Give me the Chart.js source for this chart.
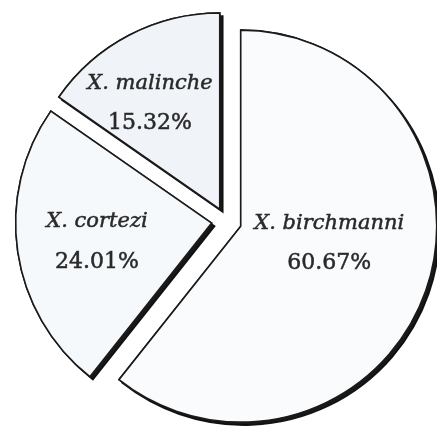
<!DOCTYPE html>
<html>
<head>
<meta charset="utf-8">
<script src="https://cdn.jsdelivr.net/npm/chart.js@4/dist/chart.umd.min.js"></script>
<style>
  html, body { margin: 0; padding: 0; background: #ffffff; }
  canvas { display: block; }
</style>
</head>
<body>
<canvas id="speciesPie" width="437" height="427"></canvas>
<script>
const speciesNames = ["X. birchmanni", "X. cortezi", "X. malinche"];
const speciesShares = [60.67, 24.01, 15.32];
const sliceFills = ["#f9fbfc", "#f6f9fb", "#f0f4f8"];

// how far each slice is pulled out of the pie, in px
const explodeBy = [15.6, 14.5, 13.5];
// label placement: fraction of radius from the slice tip, and turn in degrees
const labelRadius = [0.46, 0.593, 0.645];
const labelTurn = [-8.3, -1.0, -5.9];

function formatShare(value) {
  return `${value.toFixed(2)}%`;
}

// moves each arc along its bisector (same radius for every slice)
const explodePlugin = {
  id: "explodeSlices",
  afterDatasetsUpdate(chart) {
    chart.getDatasetMeta(0).data.forEach((arc, i) => {
      const mid = (arc.startAngle + arc.endAngle) / 2;
      arc.x += Math.cos(mid) * explodeBy[i];
      arc.y += Math.sin(mid) * explodeBy[i];
    });
  }
};

// a hard drop shadow under each slice; the slices are drawn again on top
// so only the part sticking out down/right stays visible
const shadowPlugin = {
  id: "sliceShadow",
  beforeDatasetsDraw(chart) {
    const ctx = chart.ctx;
    ctx.save();
    ctx.shadowColor = "rgba(12, 12, 12, 0.95)";
    ctx.shadowOffsetX = 3;
    ctx.shadowOffsetY = 3;
    ctx.shadowBlur = 0;
    chart.getDatasetMeta(0).data.forEach(arc => arc.draw(ctx));
    ctx.restore();
  }
};

const sliceLabels = {
  id: "sliceLabels",
  afterDraw(chart) {
    const ctx = chart.ctx;
    const meta = chart.getDatasetMeta(0);
    ctx.save();
    ctx.fillStyle = "#2a2a2a";
    ctx.strokeStyle = "#2a2a2a";
    ctx.lineWidth = 0.5;
    ctx.textAlign = "center";
    ctx.textBaseline = "middle";
    meta.data.forEach((arc, i) => {
      const { x, y, startAngle, endAngle, outerRadius } = arc.getProps(["x", "y", "startAngle", "endAngle", "outerRadius"], true);
      const angle = (startAngle + endAngle) / 2 + labelTurn[i] * Math.PI / 180;
      const r = outerRadius * labelRadius[i];
      const lx = x + Math.cos(angle) * r;
      const ly = y + Math.sin(angle) * r;
      const share = formatShare(speciesShares[i]);
      ctx.font = "italic 21px 'DejaVu Serif'";
      ctx.fillText(speciesNames[i], lx, ly - 20);
      ctx.strokeText(speciesNames[i], lx, ly - 20);
      ctx.font = "22px 'DejaVu Serif'";
      ctx.fillText(share, lx, ly + 20);
      ctx.strokeText(share, lx, ly + 20);
    });
    ctx.restore();
  }
};

const ctx = document.getElementById("speciesPie").getContext("2d");

new Chart(ctx, {
  type: "pie",
  data: {
    labels: speciesNames,
    datasets: [
      {
        data: speciesShares,
        backgroundColor: sliceFills,
        borderColor: "#1a1a1a",
        borderWidth: 1.6,
        borderJoinStyle: "miter"
      }
    ]
  },
  options: {
    responsive: false,
    animation: false,
    radius: 196,
    layout: {
      padding: { left: 15, right: 0, top: 15, bottom: 0 }
    },
    plugins: {
      legend: { display: false },
      tooltip: { enabled: false }
    }
  },
  plugins: [explodePlugin, shadowPlugin, sliceLabels]
});
</script>
</body>
</html>
